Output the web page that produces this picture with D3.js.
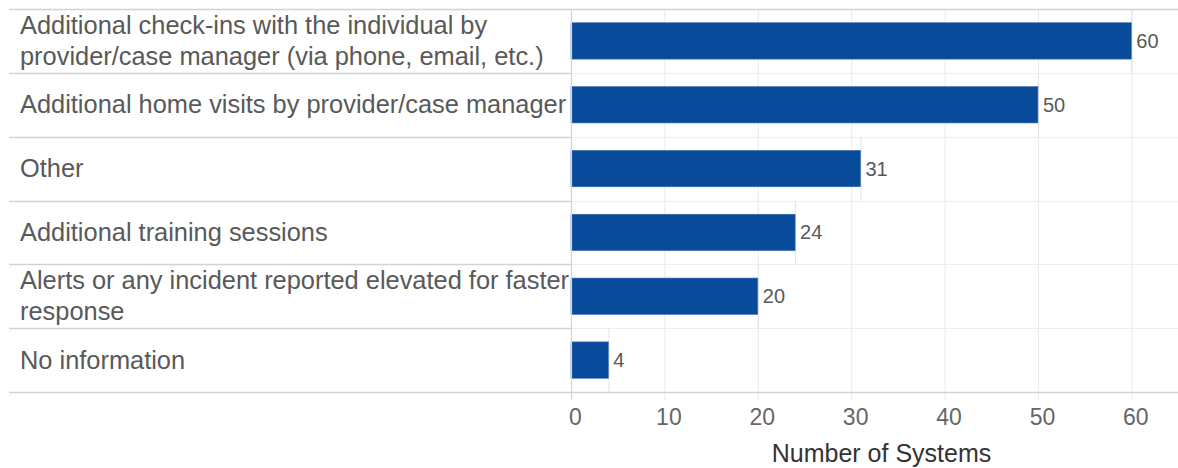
<!DOCTYPE html>
<html>
<head>
<meta charset="utf-8">
<script src="https://cdn.jsdelivr.net/npm/d3@7"></script>
<style>
  body { margin: 0; background: #fff; }
  svg { display: block; font-family: "Liberation Sans", Arial, sans-serif; }
</style>
</head>
<body>
<div id="chart"></div>
<script>
// categories (line breaks as in the original labels)
const categories = [
  'Additional check-ins with the individual by\nprovider/case manager (via phone, email, etc.)',
  'Additional home visits by provider/case manager',
  'Other',
  'Additional training sessions',
  'Alerts or any incident reported elevated for faster\nresponse',
  'No information'
];
const values = [60, 50, 31, 24, 20, 4];
const xTicks = [0, 10, 20, 30, 40, 50, 60];
const axisTitle = 'Number of Systems';

const data = categories.map((c, i) => ({ label: c, value: values[i] }));

const W = 1178, H = 468;
const frame = { left: 9, pane: 571, right: 1178, top: 9, bottom: 392 };

const svg = d3.select('#chart').append('svg')
  .attr('width', W)
  .attr('height', H);

const x = d3.scaleLinear().domain([0, 65]).range([frame.pane, frame.right]);
const y = d3.scaleBand().domain(categories).range([frame.top, frame.bottom]);
const barH = y.bandwidth() * 0.57;

// vertical gridlines
svg.append('g')
  .selectAll('line')
  .data(xTicks)
  .enter()
  .append('line')
  .attr('x1', d => x(d) + 0.5).attr('x2', d => x(d) + 0.5)
  .attr('y1', frame.top).attr('y2', frame.bottom + 8)
  .attr('stroke', '#ebebeb')
  .attr('stroke-width', 1);

// horizontal row lines in the pane
svg.append('g')
  .selectAll('line')
  .data(categories.slice(1))
  .enter()
  .append('line')
  .attr('x1', frame.pane).attr('x2', frame.right)
  .attr('y1', d => Math.round(y(d)) + 0.5).attr('y2', d => Math.round(y(d)) + 0.5)
  .attr('stroke', '#eeeeee');

// row lines in the label area
svg.append('g')
  .selectAll('line')
  .data(categories.slice(1))
  .enter()
  .append('line')
  .attr('x1', frame.left).attr('x2', frame.pane)
  .attr('y1', d => Math.round(y(d)) + 0.5).attr('y2', d => Math.round(y(d)) + 0.5)
  .attr('stroke', '#d2d2d2')
  .attr('stroke-width', 1.5);

// thin line at each bar's value across its row
svg.append('g')
  .selectAll('line')
  .data(data)
  .enter()
  .append('line')
  .attr('x1', d => x(d.value) + 0.5).attr('x2', d => x(d.value) + 0.5)
  .attr('y1', d => y(d.label)).attr('y2', d => y(d.label) + y.bandwidth())
  .attr('stroke', '#e2e2e2');

// bars
svg.selectAll('.bar')
  .data(data)
  .enter()
  .append('rect')
  .attr('class', 'bar')
  .attr('x', x(0))
  .attr('y', d => y(d.label) + (y.bandwidth() - barH) / 2)
  .attr('width', d => x(d.value) - x(0))
  .attr('height', barH)
  .attr('fill', '#084b9b')
  .attr('stroke', '#3f6fb0')
  .attr('stroke-width', 0.6);

// value labels
svg.selectAll('.val')
  .data(data)
  .enter()
  .append('text')
  .attr('x', d => x(d.value) + 5)
  .attr('y', d => y(d.label) + y.bandwidth() / 2 + 7)
  .attr('fill', '#595959')
  .style('font-size', '20px')
  .text(d => d.value);

// category labels
const lineGap = 31;
const lab = svg.selectAll('.cat')
  .data(data)
  .enter()
  .append('text')
  .attr('fill', '#595959')
  .style('font-size', '25.4px')
  .attr('x', 20)
  .attr('y', d => {
    const n = d.label.split('\n').length;
    return y(d.label) + y.bandwidth() / 2 + 8.5 - (n - 1) * lineGap / 2;
  });
lab.each(function (d) {
  d3.select(this).selectAll('tspan')
    .data(d.label.split('\n'))
    .enter()
    .append('tspan')
    .attr('x', 20)
    .attr('dy', (t, i) => i === 0 ? 0 : lineGap)
    .text(t => t);
});

// frame lines
svg.append('line')
  .attr('x1', frame.left).attr('x2', frame.right)
  .attr('y1', frame.top + 0.5).attr('y2', frame.top + 0.5)
  .attr('stroke', '#d2d2d2').attr('stroke-width', 1.5);
svg.append('line')
  .attr('x1', frame.left).attr('x2', frame.right)
  .attr('y1', frame.bottom + 0.5).attr('y2', frame.bottom + 0.5)
  .attr('stroke', '#d2d2d2').attr('stroke-width', 1.5);
svg.append('line')
  .attr('x1', frame.pane + 0.5).attr('x2', frame.pane + 0.5)
  .attr('y1', frame.top).attr('y2', frame.bottom + 8)
  .attr('stroke', '#d2d2d2').attr('stroke-width', 1.2);

// x axis labels
const xAxis = svg.append('g')
  .attr('transform', `translate(0,${frame.bottom})`)
  .call(d3.axisBottom(x).tickValues(xTicks).tickSize(0).tickPadding(0));
xAxis.select('.domain').remove();
xAxis.selectAll('text')
  .attr('y', 33)
  .attr('dy', null)
  .attr('dx', 4)
  .attr('fill', '#666')
  .style('font-size', '23px')
  .style('font-family', '"Liberation Sans Narrow", "Liberation Sans", Arial, sans-serif');

// axis title
svg.append('text')
  .attr('x', (frame.pane + frame.right) / 2 + 7)
  .attr('y', 462)
  .attr('text-anchor', 'middle')
  .attr('fill', '#333')
  .style('font-size', '25px')
  .text(axisTitle);
</script>
</body>
</html>
